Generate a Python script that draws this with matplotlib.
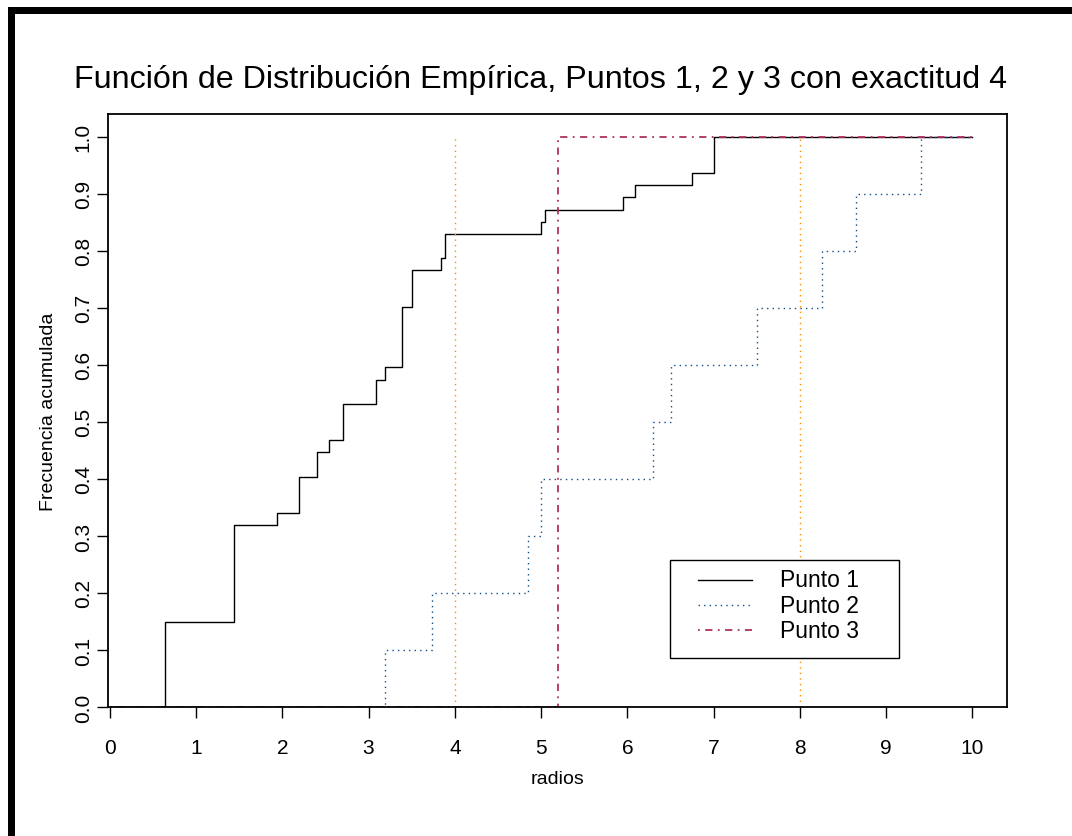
import matplotlib.pyplot as plt
from matplotlib.patches import Rectangle
from matplotlib.lines import Line2D

plt.rcParams['font.family'] = ['Liberation Sans', 'DejaVu Sans']

# step positions (radios) and cumulative frequency reached at each step
p1_x = [0.64, 1.44, 1.94, 2.19, 2.40, 2.54, 2.70, 3.09, 3.19, 3.39, 3.50,
        3.84, 3.89, 5.00, 5.05, 5.95, 6.09, 6.75, 7.00]
p1_y = [0.149, 0.319, 0.340, 0.404, 0.447, 0.468, 0.532, 0.574, 0.596, 0.702,
        0.766, 0.787, 0.830, 0.851, 0.872, 0.894, 0.915, 0.936, 1.0]

p2_x = [3.19, 3.74, 4.85, 5.00, 6.30, 6.50, 7.50, 8.26, 8.65, 9.40]
p2_y = [0.1, 0.2, 0.3, 0.4, 0.5, 0.6, 0.7, 0.8, 0.9, 1.0]

p3_x = [5.2]
p3_y = [1.0]

ref_lines = [4, 8]
x_start, x_end = 0, 10
labels = ['Punto 1', 'Punto 2', 'Punto 3']

c_blue = '#104E8B'
c_purple = '#B03060'
c_orange = '#FF8C00'

fig = plt.figure(figsize=(10.72, 8.37), dpi=100)
ax = fig.add_axes([108 / 1072, 1 - 708 / 837, 899 / 1072, 593 / 837])


def ecdf_line(xs, ys, **kw):
    px = [x_start] + xs + [x_end]
    py = [0] + ys + [ys[-1]]
    return ax.step(px, py, where='post', **kw)[0]


styles = [dict(color='black', ls='-', lw=1),
          dict(color=c_blue, ls=(0, (1, 3)), lw=1),
          dict(color=c_purple, ls=(0, (1, 3, 4, 3)), lw=1.3)]
for (xs, ys), st in zip([(p1_x, p1_y), (p2_x, p2_y), (p3_x, p3_y)], styles):
    ecdf_line(xs, ys, **st)

ax.vlines(ref_lines, 0, 1, colors=c_orange, linestyles=[(0, (1, 3))], lw=1)

ax.set_xlim(-0.02, 10.4)
ax.set_ylim(0, 1.04)
ax.set_xticks(range(0, 11))
ax.set_yticks([i / 10 for i in range(11)])
ax.set_yticklabels([f'{i / 10:.1f}' for i in range(11)], rotation=90, va='center')
ax.tick_params(axis='both', direction='out', length=8, width=1, labelsize=15)
ax.tick_params(axis='x', pad=14)
ax.tick_params(axis='y', pad=3)

for s in ax.spines.values():
    s.set_linewidth(1.3)

fig.suptitle('Función de Distribución Empírica, Puntos 1, 2 y 3 con exactitud 4',
             fontsize=23.2, x=0.504, y=1 - 80 / 837, va='center')
ax.set_xlabel('radios', fontsize=14, labelpad=10)
ax.set_ylabel('Frecuencia acumulada', fontsize=14, labelpad=12)

# legend box drawn by hand, in axes coordinates
ax.add_patch(Rectangle((0.6251, 0.0826), 0.2547, 0.1653, transform=ax.transAxes,
                       facecolor='white', edgecolor='black', lw=1, zorder=5))
for i, (lab, st) in enumerate(zip(labels, styles)):
    yy = 0.2142 - i * 0.0422
    ax.add_line(Line2D([0.6563, 0.7164], [yy, yy], transform=ax.transAxes,
                       zorder=6, **st))
    ax.text(0.7475, yy, lab, transform=ax.transAxes, fontsize=16.5,
            va='center', ha='left', zorder=6)

# heavy frame on the top and left edges
fig.add_artist(Rectangle((8 / 1072, 0), 7 / 1072, 1 - 8 / 837,
                         transform=fig.transFigure, color='black', lw=0))
fig.add_artist(Rectangle((8 / 1072, 1 - 15 / 837), 1 - 8 / 1072, 7 / 837,
                         transform=fig.transFigure, color='black', lw=0))

fig.savefig('out.png', dpi=100)
